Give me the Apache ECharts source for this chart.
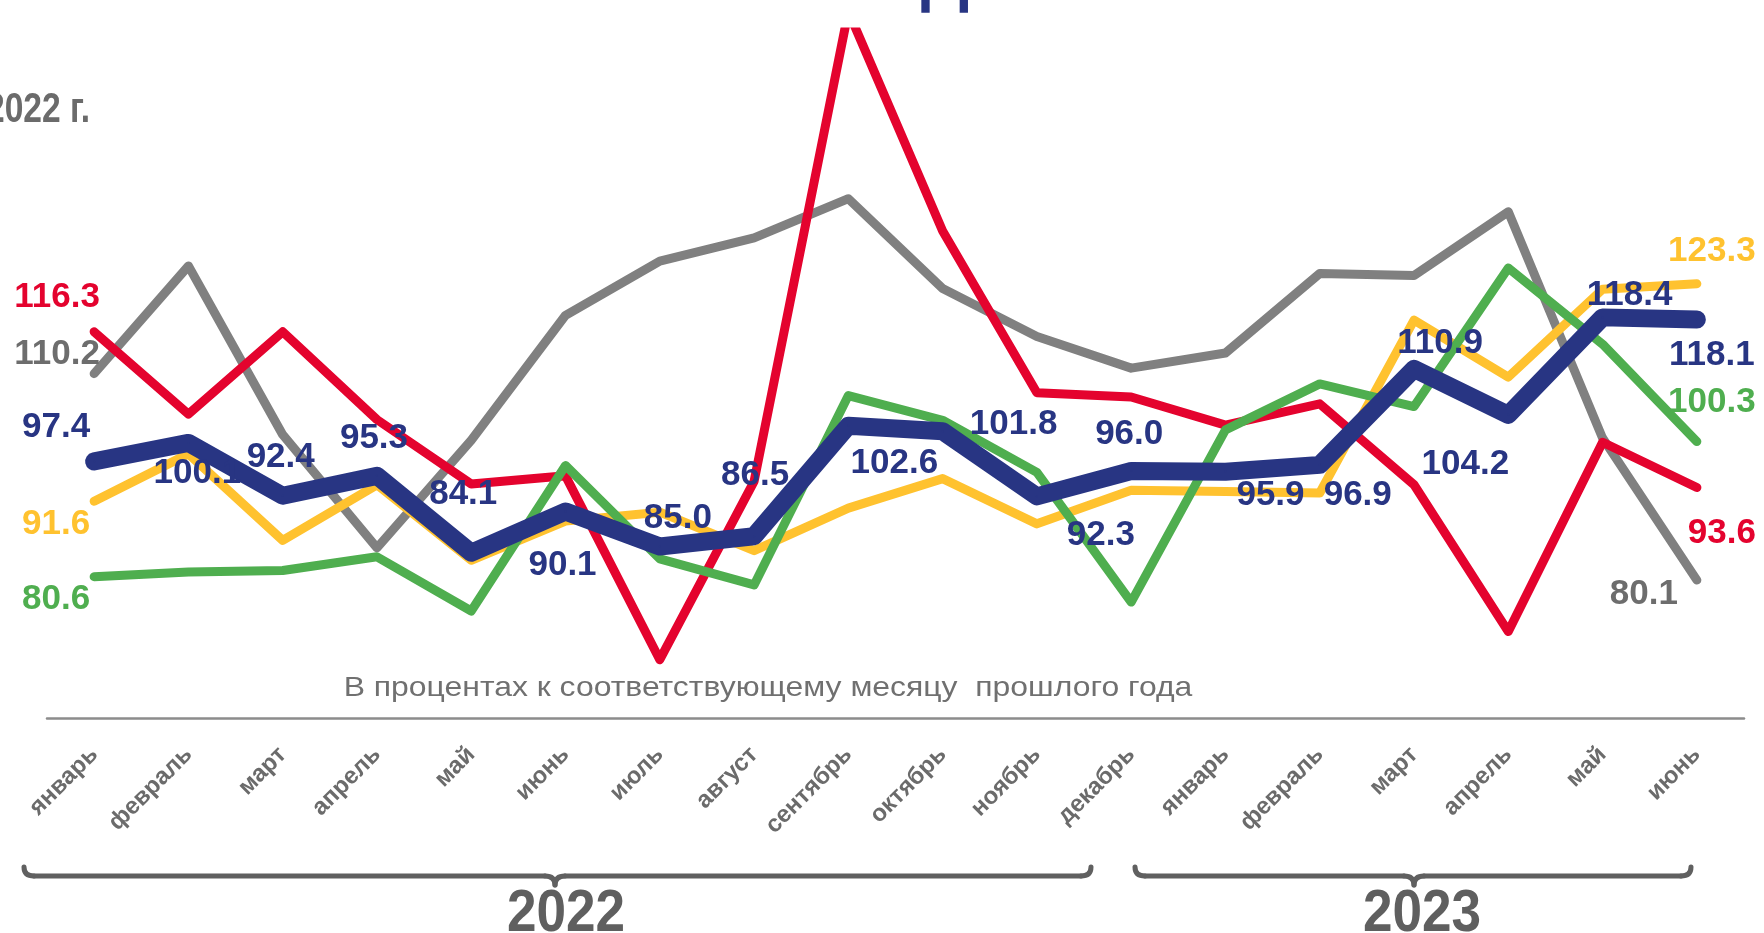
<!DOCTYPE html>
<html>
<head>
<meta charset="utf-8">
<script src="https://cdn.jsdelivr.net/npm/echarts@6/dist/echarts.min.js"></script>
<style>
html,body{margin:0;padding:0;background:#fff;}
#chart{width:1764px;height:933px;}
</style>
</head>
<body>
<div id="chart"></div>
<script>
// ---- data ----
const months = ['январь','февраль','март','апрель','май','июнь','июль','август','сентябрь','октябрь','ноябрь','декабрь','январь','февраль','март','апрель','май','июнь'];
const redSeries    = [116.3, 104.3, 116.3, 103.5, 94.1, 95.3, 68.5, 94.5, 163.0, 131.0, 107.4, 106.8, 102.7, 105.8, 94.0, 72.6, 100.2, 93.6];
const graySeries   = [110.2, 125.9, 101.3, 84.8, 100.5, 118.7, 126.6, 130.0, 135.7, 122.6, 115.6, 111.0, 113.2, 124.8, 124.5, 133.8, 100.8, 80.1];
const yellowSeries = [91.6, 98.5, 85.9, 94.0, 83.0, 88.7, 90.0, 84.4, 90.6, 94.9, 88.3, 93.2, 93.0, 92.8, 118.0, 109.7, 122.5, 123.3];
const greenSeries  = [80.6, 81.3, 81.5, 83.5, 75.6, 96.8, 83.2, 79.4, 107.0, 103.4, 95.8, 76.9, 102.0, 108.7, 105.4, 125.6, 114.5, 100.3];
const navySeries   = [97.4, 100.1, 92.4, 95.3, 84.1, 90.1, 85.0, 86.5, 102.6, 101.8, 92.3, 96.0, 95.9, 96.9, 110.9, 104.2, 118.4, 118.1];
const years = ['2022', '2023'];
const subtitle = 'В процентах к соответствующему месяцу  прошлого года';

// ---- label placement (style only: offsets in px from point) ----
const redLabels    = {0: [-37, -34], 17: [25, 46]};
const grayLabels   = {0: [-37, -19], 17: [-53, 14]};
const yellowLabels = {0: [-38, 23], 17: [15, -32]};
const greenLabels  = {0: [-38, 23], 17: [15, -39]};
const navyLabels   = {
  0: [-38, -34], 1: [9, 30], 2: [-2, -38], 3: [-3, -37], 4: [-8, -58], 5: [-3, 54],
  6: [18, -28], 7: [1, -61], 8: [46, 38], 9: [71, -7], 10: [64, 39], 11: [-2, -37],
  12: [45, 24], 13: [38, 30], 14: [26, -25], 15: [-43, 50], 16: [27, -22], 17: [15, 36]
};

const FONT = '"Liberation Sans", Arial, sans-serif';
const NAVY = '#283583';

function mkSeries(name, values, color, width, z, labels, labelColor) {
  return {
    name: name,
    type: 'line',
    z: z,
    silent: true,
    symbol: 'circle',
    symbolSize: 2,
    showSymbol: true,
    showAllSymbol: true,
    itemStyle: {color: color},
    lineStyle: {color: color, width: width, cap: 'round', join: 'round'},
    label: {
      show: false,
      position: 'inside',
      color: labelColor,
      fontSize: 35,
      fontWeight: 'bold',
      fontFamily: FONT
    },
    emphasis: {disabled: true},
    data: values.map(function (v, i) {
      if (labels[i]) {
        return {value: v, label: {show: true, offset: labels[i], formatter: v.toFixed(1)}};
      }
      return v;
    })
  };
}

function bracket(x0, mid, x1) {
  const yTop = 867, yLine = 876, yTip = 885, r = 10;
  const st = {stroke: '#606060', lineWidth: 5, fill: null, lineCap: 'round'};
  return [
    {type: 'bezierCurve', silent: true, shape: {x1: x0, y1: yTop, cpx1: x0, cpy1: yLine, x2: x0 + r, y2: yLine}, style: st},
    {type: 'line', silent: true, shape: {x1: x0 + r, y1: yLine, x2: mid - r, y2: yLine}, style: st},
    {type: 'bezierCurve', silent: true, shape: {x1: mid - r, y1: yLine, cpx1: mid, cpy1: yLine, x2: mid, y2: yTip}, style: st},
    {type: 'bezierCurve', silent: true, shape: {x1: mid, y1: yTip, cpx1: mid, cpy1: yLine, x2: mid + r, y2: yLine}, style: st},
    {type: 'line', silent: true, shape: {x1: mid + r, y1: yLine, x2: x1 - r, y2: yLine}, style: st},
    {type: 'bezierCurve', silent: true, shape: {x1: x1 - r, y1: yLine, cpx1: x1, cpy1: yLine, x2: x1, y2: yTop}, style: st}
  ];
}

const chart = echarts.init(document.getElementById('chart'), null, {renderer: 'canvas'});

const graphics = [
  {
    type: 'text', x: 1153, y: -20, silent: true,
    style: {text: 'ИНДЕКС ПРОМЫШЛЕННОГО ПРОИЗВОДСТВА', fill: NAVY, font: 'bold 68px ' + FONT, textAlign: 'right', textVerticalAlign: 'middle'}
  },
  {
    type: 'text', x: 90, y: 110, scaleX: 0.8, silent: true,
    style: {text: 'За январь-июнь 2022 г.', fill: '#6b6b6b', font: 'bold 42px ' + FONT, textAlign: 'right', textVerticalAlign: 'middle'}
  },
  {
    type: 'text', x: 768, y: 688, scaleX: 1.14, silent: true,
    style: {text: subtitle, fill: '#707070', font: '28px ' + FONT, textAlign: 'center', textVerticalAlign: 'middle'}
  },
  {
    type: 'text', x: 566, y: 915, scaleX: 0.9, silent: true,
    style: {text: years[0], fill: '#5f5f5f', font: 'bold 59px ' + FONT, textAlign: 'center', textVerticalAlign: 'middle'}
  },
  {
    type: 'text', x: 1422, y: 915, scaleX: 0.9, silent: true,
    style: {text: years[1], fill: '#5f5f5f', font: 'bold 59px ' + FONT, textAlign: 'center', textVerticalAlign: 'middle'}
  }
].concat(bracket(24, 555, 1091), bracket(1135, 1414, 1691));

const option = {
  animation: false,
  backgroundColor: '#ffffff',
  grid: {left: 47, right: 20, top: 32, bottom: 215, containLabel: false},
  xAxis: {
    type: 'category',
    data: months,
    boundaryGap: true,
    axisLine: {show: true, lineStyle: {color: '#8c8c8c', width: 2.5}},
    axisTick: {show: false},
    axisLabel: {
      interval: 0,
      rotate: 45,
      margin: 33,
      color: '#6b6b6b',
      fontSize: 24,
      fontWeight: 'bold',
      fontFamily: FONT
    },
    splitLine: {show: false}
  },
  yAxis: {
    type: 'value',
    min: 60,
    max: 160,
    show: false,
    splitLine: {show: false}
  },
  series: [
    mkSeries('gray', graySeries, '#808080', 9, 2, grayLabels, '#6d6d6d'),
    mkSeries('red', redSeries, '#E4032E', 9, 3, redLabels, '#E4032E'),
    mkSeries('yellow', yellowSeries, '#FFC22F', 9, 4, yellowLabels, '#FFC22F'),
    mkSeries('green', greenSeries, '#4FAE4F', 9, 5, greenLabels, '#4FAE4F'),
    mkSeries('navy', navySeries, NAVY, 18, 6, navyLabels, NAVY)
  ],
  graphic: graphics
};

chart.setOption(option);
</script>
</body>
</html>
